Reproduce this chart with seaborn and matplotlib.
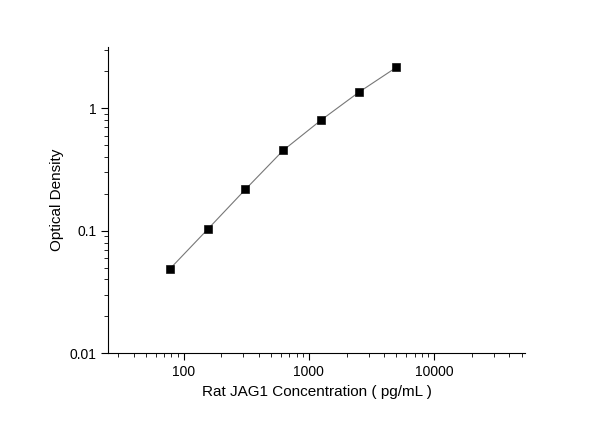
import numpy as np
import pandas as pd
import matplotlib
matplotlib.use("Agg")
import matplotlib.pyplot as plt
import seaborn as sns

# standard curve values
concentration = [78, 156, 312, 625, 1250, 2500, 5000]
optical_density = [0.049, 0.103, 0.218, 0.454, 0.80, 1.35, 2.16]

data = pd.DataFrame({"conc": concentration, "od": optical_density})

sns.set_style("ticks", {"axes.edgecolor": "black", "xtick.color": "black",
                        "ytick.color": "black", "text.color": "black",
                        "axes.labelcolor": "black"})
plt.rcParams["font.family"] = "Liberation Sans"
fig = plt.figure(figsize=(6.08, 4.25), dpi=100)
ax = fig.add_axes([0.178, 0.169, 0.685, 0.72])

sns.lineplot(data=data, x="conc", y="od", ax=ax, color="#777777", linewidth=0.8)
sns.scatterplot(data=data, x="conc", y="od", ax=ax, marker="s", color="black",
                s=30, edgecolor="black", zorder=3)

ax.set_xscale("log")
ax.set_yscale("log")
ax.set_xlim(25, 53000)
ax.set_ylim(0.01, 3.16)
ax.set_xticks([100, 1000, 10000])
ax.set_xticklabels(["100", "1000", "10000"])
ax.set_yticks([0.01, 0.1, 1])
ax.set_yticklabels(["0.01", "0.1", "1"])
ax.tick_params(which="major", length=5, labelsize=10)
ax.tick_params(which="minor", length=3)
sns.despine(ax=ax)

ax.set_xlabel("Rat JAG1 Concentration ( pg/mL )", fontsize=11)
ax.set_ylabel("Optical Density", fontsize=11)

fig.savefig("out.png", dpi=100)
